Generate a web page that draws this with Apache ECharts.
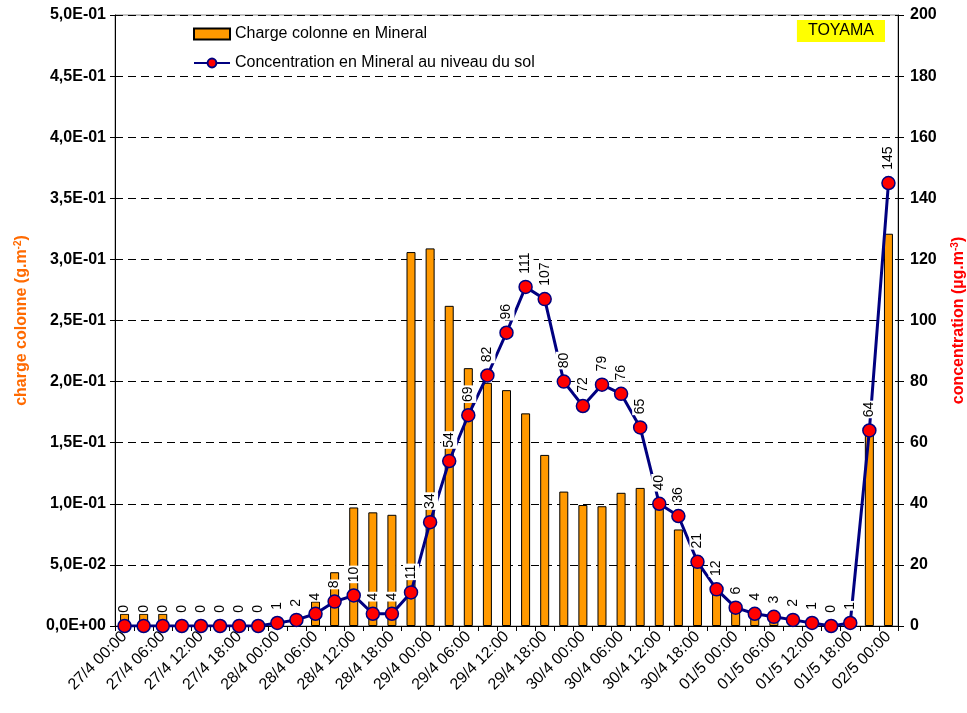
<!DOCTYPE html>
<html>
<head>
<meta charset="utf-8">
<script src="https://cdn.jsdelivr.net/npm/echarts@6/dist/echarts.min.js"></script>
<style>
  html, body { margin: 0; padding: 0; background: #fff; }
  #chart { width: 967px; height: 713px; }
</style>
</head>
<body>
<div id="chart"></div>
<script>
// Time steps (3-hourly), 27 April to 2 May
var timeLabels = [
  '27/4 00:00', '27/4 03:00', '27/4 06:00', '27/4 09:00', '27/4 12:00', '27/4 15:00', '27/4 18:00', '27/4 21:00',
  '28/4 00:00', '28/4 03:00', '28/4 06:00', '28/4 09:00', '28/4 12:00', '28/4 15:00', '28/4 18:00', '28/4 21:00',
  '29/4 00:00', '29/4 03:00', '29/4 06:00', '29/4 09:00', '29/4 12:00', '29/4 15:00', '29/4 18:00', '29/4 21:00',
  '30/4 00:00', '30/4 03:00', '30/4 06:00', '30/4 09:00', '30/4 12:00', '30/4 15:00', '30/4 18:00', '30/4 21:00',
  '01/5 00:00', '01/5 03:00', '01/5 06:00', '01/5 09:00', '01/5 12:00', '01/5 15:00', '01/5 18:00', '01/5 21:00',
  '02/5 00:00'
];

// Column load of mineral dust (g.m-2)
var columnLoad = [
  0.010, 0.010, 0.010, 0, 0, 0, 0, 0,
  0, 0, 0.020, 0.044, 0.097, 0.093, 0.091, 0.306,
  0.309, 0.262, 0.211, 0.199, 0.193, 0.174, 0.140, 0.110,
  0.099, 0.098, 0.109, 0.113, 0.103, 0.079, 0.051, 0.029,
  0.013, 0.010, 0.006, 0.002, 0, 0, 0, 0.162,
  0.321
];

// Surface concentration of mineral dust (µg.m-3)
var surfaceConc = [
  0, 0, 0, 0, 0, 0, 0, 0,
  1, 2, 4, 8, 10, 4, 4, 11,
  34, 54, 69, 82, 96, 111, 107, 80,
  72, 79, 76, 65, 40, 36, 21, 12,
  6, 4, 3, 2, 1, 0, 1, 64,
  145
];

var leftTicks = { min: 0, max: 0.5, interval: 0.05 };
var rightTicks = { min: 0, max: 200, interval: 20 };

var FONT = 'Arial, "Liberation Sans", sans-serif';

// "5,0E-01" style scientific notation with a decimal comma
function sciComma(v) {
  var s = Number(v).toExponential(1);
  var parts = s.split('e');
  var mant = parts[0].replace('.', ',');
  var exp = parseInt(parts[1], 10);
  var sign = exp < 0 ? '-' : '+';
  var e = Math.abs(exp);
  return mant + 'E' + sign + (e < 10 ? '0' + e : '' + e);
}

var chart = echarts.init(document.getElementById('chart'), null, { renderer: 'canvas' });

chart.setOption({
  animation: false,
  backgroundColor: '#ffffff',
  textStyle: { fontFamily: FONT },
  title: {
    text: 'TOYAMA',
    right: 82,
    top: 20,
    backgroundColor: '#ffff00',
    padding: [3, 11, 3, 11],
    textStyle: { fontFamily: FONT, fontSize: 16, fontWeight: 'normal', color: '#000' }
  },
  legend: {
    orient: 'vertical',
    left: 193,
    top: 26,
    padding: 0,
    itemWidth: 36,
    itemHeight: 11,
    itemGap: 13,
    textStyle: { fontFamily: FONT, fontSize: 16, color: '#000' },
    data: [
      { name: 'Charge colonne en Mineral', icon: 'rect' },
      { name: 'Concentration en Mineral au niveau du sol' }
    ]
  },
  grid: {
    left: 115,
    right: 69,
    top: 15,
    bottom: 87,
    outerBoundsMode: 'none',
    containLabel: false,
    show: true,
    borderColor: '#888',
    borderWidth: 1
  },
  xAxis: {
    type: 'category',
    data: timeLabels,
    boundaryGap: true,
    axisLine: { lineStyle: { color: '#000', width: 1 } },
    axisTick: { show: true, interval: 0, length: 5, lineStyle: { color: '#000' } },
    axisLabel: {
      interval: 1,
      rotate: 45,
      margin: 8,
      fontFamily: FONT,
      fontSize: 16,
      color: '#000'
    },
    splitLine: { show: false }
  },
  yAxis: [
    {
      type: 'value',
      position: 'left',
      min: leftTicks.min,
      max: leftTicks.max,
      interval: leftTicks.interval,
      name: '{a|charge colonne (g.m}{s|-2}{a|)}',
      nameLocation: 'middle',
      nameRotate: 90,
      nameGap: 84,
      nameTextStyle: {
        rich: {
          a: { fontFamily: FONT, fontSize: 16, fontWeight: 'bold', color: '#ff6a00' },
          s: { fontFamily: FONT, fontSize: 10, fontWeight: 'bold', color: '#ff6a00', verticalAlign: 'top', padding: [0, 0, 8, 0] }
        }
      },
      axisLine: { show: true, lineStyle: { color: '#000', width: 1 } },
      axisTick: { show: true, length: 5, lineStyle: { color: '#000' } },
      axisLabel: {
        formatter: sciComma,
        fontFamily: FONT,
        fontSize: 16,
        fontWeight: 'bold',
        color: '#000',
        margin: 9
      },
      splitLine: { show: true, lineStyle: { color: '#000', type: [8, 5], width: 1 } }
    },
    {
      type: 'value',
      position: 'right',
      min: rightTicks.min,
      max: rightTicks.max,
      interval: rightTicks.interval,
      name: '{a|concentration (µg.m}{s|-3}{a|)}',
      nameLocation: 'middle',
      nameRotate: 90,
      nameGap: 52,
      nameTextStyle: {
        rich: {
          a: { fontFamily: FONT, fontSize: 16, fontWeight: 'bold', color: '#ff0000' },
          s: { fontFamily: FONT, fontSize: 10, fontWeight: 'bold', color: '#ff0000', verticalAlign: 'top', padding: [0, 0, 8, 0] }
        }
      },
      axisLine: { show: true, lineStyle: { color: '#000', width: 1 } },
      axisTick: { show: true, length: 6, lineStyle: { color: '#000' } },
      axisLabel: {
        fontFamily: FONT,
        fontSize: 16,
        fontWeight: 'bold',
        color: '#000',
        margin: 12
      },
      splitLine: { show: false }
    }
  ],
  series: [
    {
      name: 'Charge colonne en Mineral',
      type: 'bar',
      yAxisIndex: 0,
      data: columnLoad,
      barWidth: 9,
      itemStyle: { color: '#ff9900', borderColor: '#000', borderWidth: 1 },
      z: 2
    },
    {
      name: 'Concentration en Mineral au niveau du sol',
      type: 'line',
      yAxisIndex: 1,
      data: surfaceConc,
      symbol: 'circle',
      symbolSize: 13,
      showAllSymbol: true,
      lineStyle: { color: '#000080', width: 3 },
      itemStyle: { color: '#ff0000', borderColor: '#000080', borderWidth: 1.5 },
      label: {
        show: true,
        position: 'top',
        distance: 5,
        rotate: 90,
        align: 'left',
        verticalAlign: 'middle',
        fontFamily: FONT,
        fontSize: 14,
        color: '#000',
        backgroundColor: '#ffffff',
        padding: [1, 1, 1, 1]
      },
      z: 3
    }
  ]
});
</script>
</body>
</html>
